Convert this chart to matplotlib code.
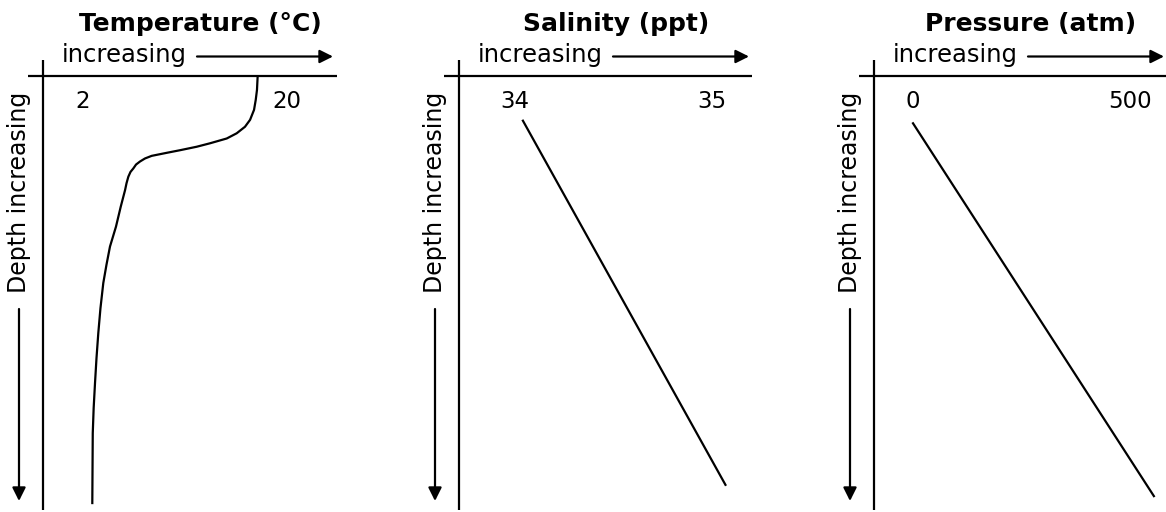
import matplotlib
matplotlib.use('Agg')
import matplotlib.pyplot as plt
from matplotlib.patches import FancyArrowPatch

plt.rcParams['font.family'] = ['DejaVu Sans']

# ---- data (depth as fraction of the drawn column, 0 = surface) ----
temp_c = [17.41, 17.35, 17.24, 17.09, 16.74, 16.29, 15.56, 14.68, 13.21, 12.03,
          10.56, 9.39, 8.06, 7.47, 7.03, 6.68, 6.44, 6.19, 6.00, 5.84,
          5.71, 5.33, 4.91, 4.38, 4.07, 3.79, 3.54, 3.35, 3.19, 3.06,
          2.94, 2.86, 2.84, 2.82]
temp_depth = [0.000, 0.032, 0.055, 0.078, 0.101, 0.117, 0.132, 0.144, 0.155, 0.163,
              0.171, 0.177, 0.184, 0.190, 0.197, 0.204, 0.213, 0.221, 0.232, 0.247,
              0.263, 0.301, 0.347, 0.393, 0.435, 0.477, 0.535, 0.592, 0.650, 0.707,
              0.765, 0.823, 0.903, 0.984]

sal_ppt = [34.04, 35.07]
sal_depth = [0.103, 0.942]

pres_atm = [0, 555]
pres_depth = [0.109, 0.968]

titles = ['Temperature (°C)', 'Salinity (ppt)', 'Pressure (atm)']
tick_vals = [[2, 20], [34, 35], [0, 500]]
xlims = [(-1.53, 24.41), (33.715, 35.205), (-89.9, 582.9)]

W, H = 1166, 512
FS = 17.5
# left edge (vertical axis line) and right end of the top line, in pixels
panels = [(43, 337), (459, 752), (874, 1166)]
TOP, BOT = 76, 510

fig = plt.figure(figsize=(W / 100, H / 100), dpi=100)

series = [(temp_c, temp_depth), (sal_ppt, sal_depth), (pres_atm, pres_depth)]
for i, (x0, x1) in enumerate(panels):
    ax = fig.add_axes([x0 / W, 1 - BOT / H, (x1 - x0) / W, (BOT - TOP) / H])
    ax.set_xlim(*xlims[i])
    ax.set_ylim(1, 0)
    ax.axis('off')
    aw, ah = x1 - x0, BOT - TOP

    # axis cross
    ax.plot([0, 0], [0, 1 + 16 / ah], transform=ax.transAxes, color='k', lw=1.6,
            clip_on=False, solid_capstyle='butt')
    ax.plot([-15 / aw, 1], [1, 1], transform=ax.transAxes, color='k', lw=1.6,
            clip_on=False, solid_capstyle='butt')

    xs, ds = series[i]
    ax.plot(xs, ds, color='k', lw=1.6, solid_joinstyle='round')

    for v in tick_vals[i]:
        ax.text(v, 1 - 32 / ah, str(v), transform=ax.get_xaxis_transform(),
                ha='center', va='baseline', fontsize=16.5)

    # title
    fig.text((x0 + 157) / W, 1 - 31 / H, titles[i], ha='center', va='baseline',
             fontsize=18, fontweight='bold')
    # "increasing ->"
    fig.text((x0 + 19) / W, 1 - 62 / H, 'increasing', ha='left', va='baseline',
             fontsize=FS)
    fig.add_artist(FancyArrowPatch(
        ((x0 + 154) / W, 1 - 56.5 / H), ((x0 + 290) / W, 1 - 56.5 / H),
        transform=fig.transFigure, arrowstyle='-|>', mutation_scale=20,
        color='k', lw=1.6, shrinkA=0, shrinkB=0))
    # "Depth increasing" with down arrow
    fig.text((x0 - 24) / W, 1 - 192 / H, 'Depth increasing', rotation=90,
             ha='center', va='center', fontsize=17)
    fig.add_artist(FancyArrowPatch(
        ((x0 - 24) / W, 1 - 309 / H), ((x0 - 24) / W, 1 - 501 / H),
        transform=fig.transFigure, arrowstyle='-|>', mutation_scale=20,
        color='k', lw=1.6, shrinkA=0, shrinkB=0))

fig.savefig('out.png', dpi=100)
